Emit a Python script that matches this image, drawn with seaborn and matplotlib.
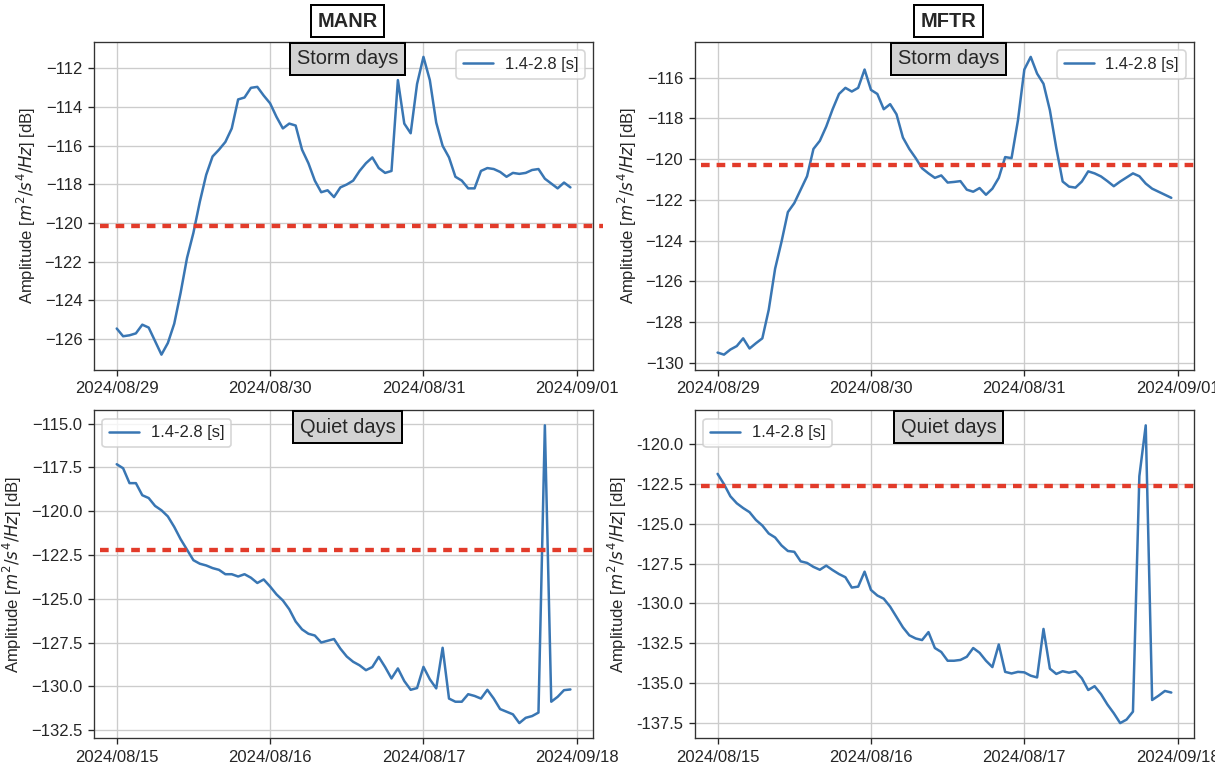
import numpy as np
import pandas as pd
import seaborn as sns
import matplotlib.pyplot as plt
from matplotlib.ticker import FuncFormatter

# hourly amplitudes, 1.4-2.8 s band [dB]
manr_storm = [-125.45, -125.85, -125.8, -125.7, -125.25, -125.4, -126.1, -126.8, -126.2, -125.2,
              -123.6, -121.8, -120.5, -118.9, -117.5, -116.55, -116.2, -115.8, -115.1, -113.6,
              -113.5, -113.0, -112.95, -113.4, -113.8, -114.5, -115.1, -114.85, -114.95, -116.2,
              -116.9, -117.8, -118.4, -118.3, -118.65, -118.15, -118.0, -117.8, -117.3, -116.9,
              -116.6, -117.15, -117.4, -117.3, -112.6, -114.85, -115.35, -112.8, -111.4, -112.6,
              -114.8, -116.0, -116.6, -117.6, -117.8, -118.2, -118.2, -117.3, -117.15, -117.2,
              -117.35, -117.6, -117.4, -117.45, -117.4, -117.25, -117.2, -117.7, -117.95, -118.2,
              -117.9, -118.15]
mftr_storm = [-129.5, -129.6, -129.35, -129.18, -128.8, -129.3, -129.04, -128.8, -127.4, -125.38,
              -124.06, -122.6, -122.16, -121.5, -120.84, -119.5, -119.1, -118.4, -117.55, -116.8,
              -116.5, -116.68, -116.5, -115.6, -116.6, -116.8, -117.55, -117.3, -117.8, -118.94,
              -119.5, -119.95, -120.45, -120.7, -120.92, -120.8, -121.15, -121.12, -121.08, -121.5,
              -121.6, -121.42, -121.75, -121.45, -120.92, -119.9, -119.95, -118.1, -115.6, -114.98,
              -115.8, -116.3, -117.6, -119.45, -121.1, -121.35, -121.4, -121.1, -120.6, -120.7,
              -120.85, -121.08, -121.33, -121.1, -120.9, -120.7, -120.84, -121.2, -121.45, -121.6,
              -121.75, -121.9]
manr_quiet = [-117.32, -117.55, -118.4, -118.4, -119.09, -119.25, -119.7, -119.95, -120.3, -120.9,
              -121.6, -122.2, -122.8, -123.0, -123.1, -123.25, -123.35, -123.6, -123.6, -123.73,
              -123.6, -123.8, -124.1, -123.9, -124.3, -124.75, -125.1, -125.6, -126.3, -126.75,
              -127.0, -127.1, -127.5, -127.4, -127.3, -127.85, -128.3, -128.6, -128.8, -129.08,
              -128.9, -128.32, -128.9, -129.55, -128.98, -129.7, -130.2, -130.1, -128.89, -129.6,
              -130.12, -127.8, -130.7, -130.88, -130.88, -130.45, -130.55, -130.7, -130.2, -130.7,
              -131.3, -131.45, -131.6, -132.1, -131.8, -131.7, -131.5, -115.1, -130.88, -130.6,
              -130.22, -130.18]
mftr_quiet = [-121.85, -122.5, -123.26, -123.7, -124.0, -124.26, -124.75, -125.1, -125.6, -125.85,
              -126.35, -126.7, -126.75, -127.35, -127.45, -127.7, -127.88, -127.62, -127.9, -128.15,
              -128.35, -129.0, -128.94, -128.0, -129.15, -129.5, -129.7, -130.2, -130.85, -131.5,
              -132.0, -132.2, -132.3, -131.8, -132.8, -133.05, -133.6, -133.6, -133.55, -133.35,
              -132.8, -133.1, -133.6, -134.0, -132.58, -134.3, -134.4, -134.3, -134.33, -134.54,
              -134.65, -131.6, -134.1, -134.43, -134.26, -134.35, -134.26, -134.7, -135.44, -135.2,
              -135.7, -136.35, -136.9, -137.52, -137.3, -136.8, -122.0, -118.8, -136.07, -135.8,
              -135.5, -135.6]

# threshold levels [dB]
manr_storm_level = -120.15
mftr_storm_level = -120.27
manr_quiet_level = -122.2
mftr_quiet_level = -122.6

storm_start = "2024-08-29"
quiet_start = "2024-08-15"
storm_days = ["2024-08-29", "2024-08-30", "2024-08-31", "2024-09-01"]
quiet_days = ["2024-08-15", "2024-08-16", "2024-08-17", "2024-08-18"]
storm_labels = ["2024/08/29", "2024/08/30", "2024/08/31", "2024/09/01"]
quiet_labels = ["2024/08/15", "2024/08/16", "2024/08/17", "2024/09/18"]

stations = ["MANR", "MFTR"]
band_label = "1.4-2.8 [s]"

sns.set_style("ticks", rc={
    "axes.grid": True,
    "grid.color": "#cccccc",
    "grid.linewidth": 0.8,
    "axes.edgecolor": "#333333",
    "axes.linewidth": 1.0,
})
plt.rcParams["font.family"] = ["Liberation Sans", "DejaVu Sans"]
plt.rcParams["font.size"] = 10

line_color = "#3976b3"
red = "#e23b2a"

fig, axes = plt.subplots(2, 2, figsize=(10.125, 6.4), dpi=120)
fig.subplots_adjust(left=0.0774, right=0.9827, top=0.9453, bottom=0.0391,
                    wspace=0.204, hspace=0.125)

panels = [
    (axes[0, 0], manr_storm, storm_start, manr_storm_level, storm_days, storm_labels, "Storm days", "upper right"),
    (axes[0, 1], mftr_storm, storm_start, mftr_storm_level, storm_days, storm_labels, "Storm days", "upper right"),
    (axes[1, 0], manr_quiet, quiet_start, manr_quiet_level, quiet_days, quiet_labels, "Quiet days", "upper left"),
    (axes[1, 1], mftr_quiet, quiet_start, mftr_quiet_level, quiet_days, quiet_labels, "Quiet days", "upper left"),
]

for i, (ax, vals, start, level, days, labels, tag, loc) in enumerate(panels):
    df = pd.DataFrame({
        "time": pd.date_range(start, periods=len(vals), freq="h"),
        "amp": vals,
    })
    sns.lineplot(data=df, x="time", y="amp", ax=ax, color=line_color,
                 linewidth=1.5, label=band_label)
    xmax = 1.02 if i == 0 else 1.0
    ax.axhline(level, xmin=0.012, xmax=xmax, color=red, linewidth=2.6,
               linestyle=(0, (2.0, 1.6)), clip_on=False, zorder=3)
    ax.set_xticks(pd.to_datetime(days))
    ax.set_xticklabels(labels)
    ax.set_xlabel("")
    ax.set_ylabel("Amplitude [$m^2/s^4/Hz$] [dB]")
    ax.legend(loc=loc, fontsize=10, handlelength=1.8, handletextpad=0.7)
    ax.text(0.508, 0.978, tag, transform=ax.transAxes, ha="center", va="top",
            fontsize=12, bbox=dict(facecolor="#d3d3d3", edgecolor="black", linewidth=1.2))
    ax.tick_params(axis="both", labelsize=10, length=3.5)

axes[1, 1].yaxis.set_major_formatter(FuncFormatter(lambda v, p: f"{v:.1f}"))

for ax, name in zip(axes[0], stations):
    ax.text(0.508, 1.064, name, transform=ax.transAxes, ha="center", va="center",
            fontsize=12, fontweight="bold",
            bbox=dict(facecolor="white", edgecolor="black", linewidth=1.2))

plt.savefig("out.png", dpi=120)
plt.close(fig)
